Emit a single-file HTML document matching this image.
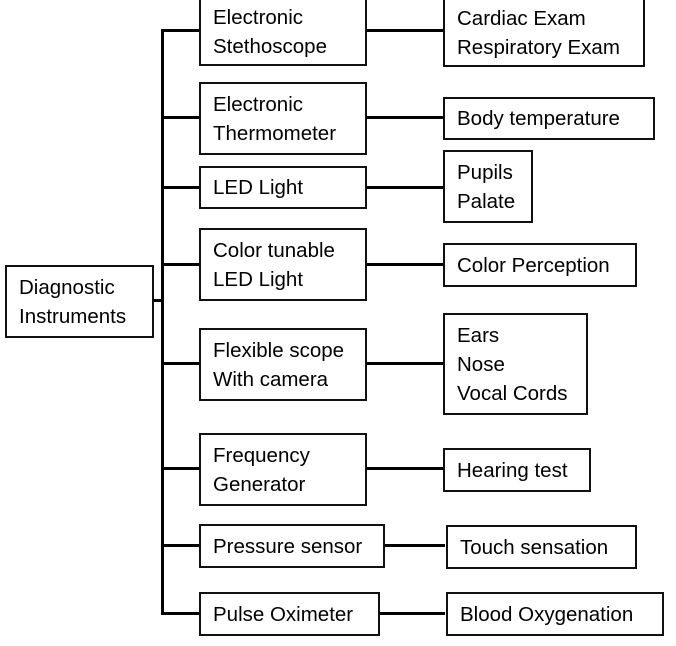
<!DOCTYPE html>
<html><head><style>
body{margin:0;width:676px;height:646px;background:#fff;position:relative;overflow:hidden;font-family:"Liberation Sans",sans-serif;font-size:20.5px;color:#000}
.b{position:absolute;border:2px solid #111;box-sizing:border-box;padding-left:12px;line-height:29px;display:flex;flex-direction:column;justify-content:center;white-space:nowrap}
.h{position:absolute;background:#000;height:3px}
.v{position:absolute;background:#000;width:3px}
</style></head><body>
<div class="v" style="left:161px;top:29px;height:586px"></div>
<div class="h" style="left:153px;top:299px;width:10px"></div>
<div class="b" style="left:5px;top:265px;width:149px;height:73px">Diagnostic<br>Instruments</div>

<div class="h" style="left:161px;top:29px;width:40px"></div>
<div class="h" style="left:161px;top:116px;width:40px"></div>
<div class="h" style="left:161px;top:186px;width:40px"></div>
<div class="h" style="left:161px;top:263px;width:40px"></div>
<div class="h" style="left:161px;top:362px;width:40px"></div>
<div class="h" style="left:161px;top:467px;width:40px"></div>
<div class="h" style="left:161px;top:544px;width:40px"></div>
<div class="h" style="left:161px;top:612px;width:40px"></div>

<div class="h" style="left:365px;top:29px;width:80px"></div>
<div class="h" style="left:365px;top:116px;width:80px"></div>
<div class="h" style="left:365px;top:186px;width:80px"></div>
<div class="h" style="left:365px;top:263px;width:80px"></div>
<div class="h" style="left:365px;top:362px;width:80px"></div>
<div class="h" style="left:365px;top:467px;width:80px"></div>
<div class="h" style="left:383px;top:544px;width:62px"></div>
<div class="h" style="left:378px;top:612px;width:67px"></div>

<div class="b" style="left:199px;top:-6px;width:168px;height:72px;padding-top:4px">Electronic<br>Stethoscope</div>
<div class="b" style="left:199px;top:82px;width:168px;height:73px">Electronic<br>Thermometer</div>
<div class="b" style="left:199px;top:166px;width:168px;height:43px">LED Light</div>
<div class="b" style="left:199px;top:228px;width:168px;height:73px">Color tunable<br>LED Light</div>
<div class="b" style="left:199px;top:328px;width:168px;height:73px">Flexible scope<br>With camera</div>
<div class="b" style="left:199px;top:433px;width:168px;height:73px">Frequency<br>Generator</div>
<div class="b" style="left:199px;top:524px;width:186px;height:44px">Pressure sensor</div>
<div class="b" style="left:199px;top:592px;width:181px;height:44px">Pulse Oximeter</div>

<div class="b" style="left:443px;top:-6px;width:202px;height:73px;padding-top:4px">Cardiac Exam<br>Respiratory Exam</div>
<div class="b" style="left:443px;top:97px;width:212px;height:43px">Body temperature</div>
<div class="b" style="left:443px;top:150px;width:90px;height:73px">Pupils<br>Palate</div>
<div class="b" style="left:443px;top:243px;width:194px;height:44px">Color Perception</div>
<div class="b" style="left:443px;top:313px;width:145px;height:102px">Ears<br>Nose<br>Vocal Cords</div>
<div class="b" style="left:443px;top:448px;width:148px;height:44px">Hearing test</div>
<div class="b" style="left:446px;top:525px;width:191px;height:44px">Touch sensation</div>
<div class="b" style="left:446px;top:592px;width:218px;height:44px">Blood Oxygenation</div>
</body></html>
